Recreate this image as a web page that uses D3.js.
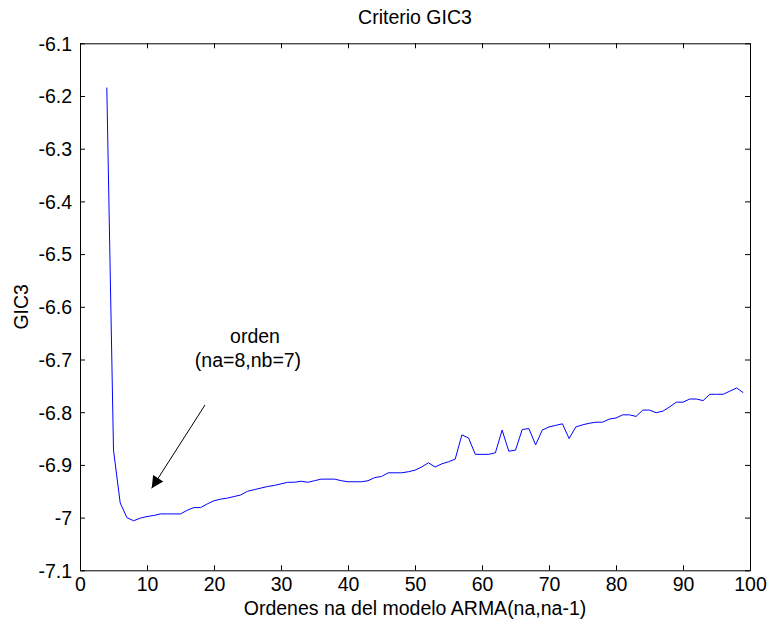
<!DOCTYPE html>
<html><head><meta charset="utf-8">
<script src="https://cdn.jsdelivr.net/npm/d3@7"></script>
<style>body{margin:0;background:#fff}svg{display:block}text{font-family:"Liberation Sans",Arial,sans-serif;fill:#000}</style>
</head><body><svg id="c" width="769" height="626"></svg>
<script>
const orders = d3.range(4, 100);
const gic3 = [-6.184,-6.872,-6.972,-7.000,-7.006,-7.001,-6.998,-6.996,-6.993,-6.993,-6.993,-6.993,-6.986,-6.981,-6.981,-6.974,
-6.968,-6.965,-6.963,-6.960,-6.957,-6.950,-6.947,-6.944,-6.941,-6.939,-6.936,-6.933,-6.933,-6.931,-6.933,-6.930,
-6.927,-6.927,-6.927,-6.930,-6.932,-6.932,-6.932,-6.930,-6.924,-6.922,-6.915,-6.915,-6.915,-6.913,-6.910,-6.904,
-6.896,-6.904,-6.898,-6.894,-6.889,-6.843,-6.849,-6.880,-6.880,-6.880,-6.877,-6.834,-6.874,-6.872,-6.833,-6.831,
-6.862,-6.834,-6.828,-6.825,-6.822,-6.850,-6.828,-6.824,-6.821,-6.819,-6.819,-6.813,-6.811,-6.805,-6.805,-6.808,
-6.796,-6.796,-6.801,-6.798,-6.790,-6.781,-6.781,-6.775,-6.775,-6.778,-6.766,-6.766,-6.766,-6.760,-6.754,-6.763];
const xTicks = d3.range(0, 101, 10);
const yTicks = [-7.1,-7,-6.9,-6.8,-6.7,-6.6,-6.5,-6.4,-6.3,-6.2,-6.1];
const titleText = "Criterio GIC3";
const xLabel = "Ordenes na del modelo ARMA(na,na-1)";
const yLabel = "GIC3";
const noteLines = ["orden", "(na=8,nb=7)"];

const FS = "19.5px";
const L = 80, R = 750, T = 43.3, B = 570.3;
const svg = d3.select("#c");
const x = d3.scaleLinear().domain([0, 100]).range([L, R]);
const y = d3.scaleLinear().domain([-7.1, -6.1]).range([B, T]);

const fmt = d => (Math.round(d*10)/10).toString();
const g = svg.append("g");
const bx = g.append("g").attr("transform", `translate(0,${B})`)
  .call(d3.axisBottom(x).tickValues(xTicks).tickSizeInner(-5).tickSizeOuter(0).tickPadding(0));
g.append("g").attr("transform", `translate(0,${T})`)
  .call(d3.axisTop(x).tickValues(xTicks).tickSizeInner(-5).tickSizeOuter(0).tickFormat(""));
const ly = g.append("g").attr("transform", `translate(${L},0)`)
  .call(d3.axisLeft(y).tickValues(yTicks).tickSizeInner(-5).tickSizeOuter(0).tickPadding(8).tickFormat(fmt));
g.append("g").attr("transform", `translate(${R},0)`)
  .call(d3.axisRight(y).tickValues(yTicks).tickSizeInner(-5).tickSizeOuter(0).tickFormat(""));
g.selectAll(".domain").attr("stroke", "#000").attr("stroke-width", 1);
g.selectAll(".tick line").attr("stroke", "#000");
g.selectAll(".tick text").style("font-size", FS).style("font-family", '"Liberation Sans",Arial,sans-serif').attr("fill", "#000");
bx.selectAll(".tick text").attr("y", 21).attr("dy", null);
ly.selectAll(".tick text").attr("dy", "0.35em");

svg.append("path").datum(orders.map((o, i) => [o, gic3[i]]))
  .attr("fill", "none").attr("stroke", "#0000ff").attr("stroke-width", 1)
  .attr("d", d3.line().x(d => x(d[0])).y(d => y(d[1])));

svg.append("text").attr("x", (L+R)/2).attr("y", 24).attr("text-anchor", "middle").style("font-size", FS).text(titleText);
svg.append("text").attr("x", (L+R)/2).attr("y", 615).attr("text-anchor", "middle").style("font-size", FS).text(xLabel);
svg.append("text").attr("transform", `translate(28,${(T+B)/2}) rotate(-90)`).attr("text-anchor", "middle").style("font-size", FS).text(yLabel);

svg.append("text").attr("x", 255).attr("y", 343).attr("text-anchor", "middle").style("font-size", FS).text(noteLines[0]);
svg.append("text").attr("x", 248).attr("y", 367).attr("text-anchor", "middle").style("font-size", FS).text(noteLines[1]);

const defs = svg.append("defs");
defs.append("marker").attr("id", "ah").attr("viewBox", "0 0 10 10").attr("refX", 10).attr("refY", 5)
  .attr("markerWidth", 14).attr("markerHeight", 12).attr("markerUnits", "userSpaceOnUse").attr("orient", "auto")
  .append("path").attr("d", "M0,0 L10,5 L0,10 Z").attr("fill", "#000");
svg.append("line").attr("x1", 205).attr("y1", 405).attr("x2", 151.7).attr("y2", 488.3)
  .attr("stroke", "#000").attr("stroke-width", 1).attr("marker-end", "url(#ah)");
</script></body></html>
